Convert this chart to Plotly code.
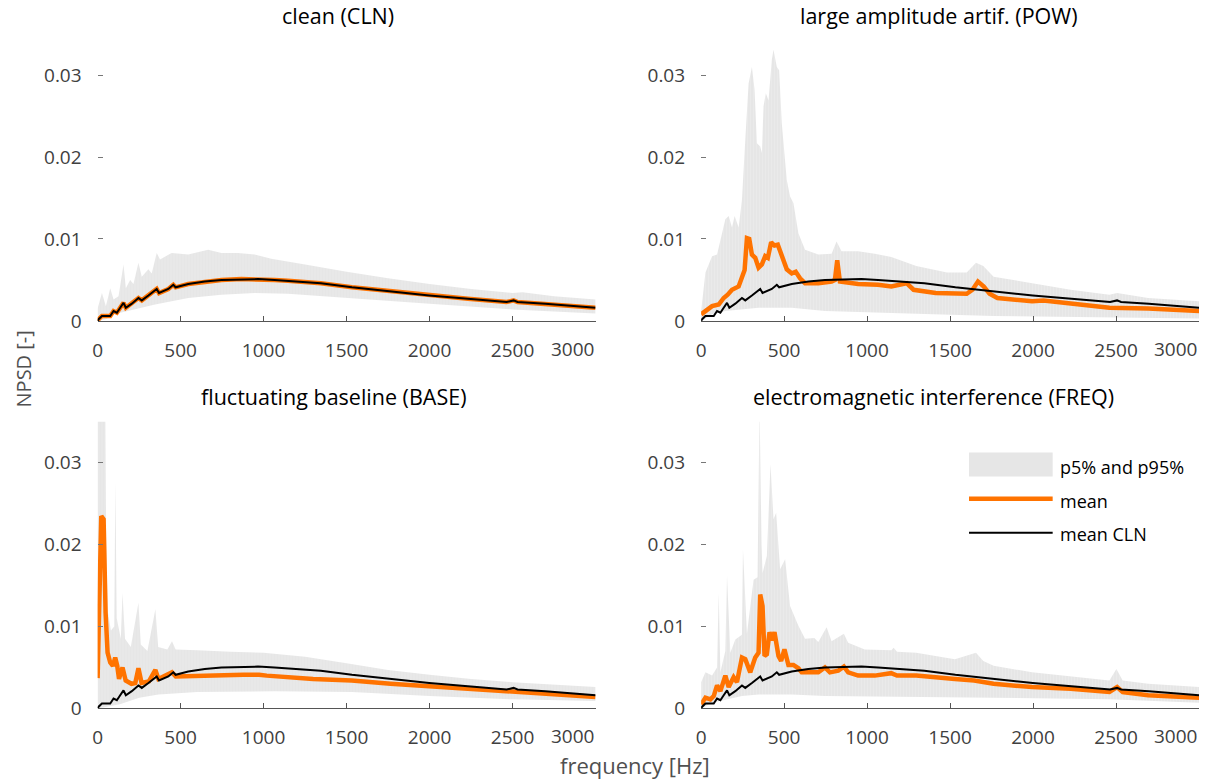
import plotly.graph_objects as go

# ---------------- data ----------------
tick_vals = [0, 500, 1000, 1500, 2000, 2500, 3000]
tick_text = ["0", "500", "1000", "1500", "2000", "2500", ""]
ytick_vals = [0, 0.01, 0.02, 0.03]
ytick_text = ["0", "0.01", "0.02", "0.03"]

panel_titles = ["clean (CLN)", "large amplitude artif. (POW)",
                "fluctuating baseline (BASE)", "electromagnetic interference (FREQ)"]

# mean of clean recordings (black reference curve, also the CLN mean)
cln_mean_f = [0, 6, 26, 76, 96, 116, 136, 156, 170, 206, 246, 266, 306, 356, 370, 426, 456, 470,
              546, 646, 746, 866, 966, 1066, 1146, 1227, 1345, 1532, 1765, 1998, 2231, 2464, 2506,
              2530, 2697, 3000]
cln_mean_v = [0.0, 0.0002, 0.0006, 0.0006, 0.0012, 0.0010, 0.0016, 0.0022, 0.0016, 0.0021, 0.0028,
              0.0025, 0.0031, 0.0039, 0.0034, 0.0039, 0.0044, 0.0041, 0.0045, 0.0048, 0.0050, 0.0051,
              0.0051, 0.0050, 0.0049, 0.0048, 0.0046, 0.0041, 0.0036, 0.0031, 0.0027, 0.0023, 0.0025,
              0.0023, 0.0021, 0.0016]

cln_p95_f = [0, 26, 50, 76, 96, 126, 156, 170, 196, 216, 246, 266, 306, 326, 356, 376, 446, 546,
             666, 746, 846, 946, 1046, 1146, 1250, 1500, 1750, 2000, 2250, 2500, 2560, 2750, 3000]
cln_p95_v = [0.0015, 0.0034, 0.0018, 0.0040, 0.0026, 0.0030, 0.0069, 0.0040, 0.0050, 0.0045, 0.0071,
             0.0054, 0.0063, 0.0058, 0.0083, 0.0075, 0.0083, 0.0081, 0.0087, 0.0083, 0.0083, 0.0081,
             0.0076, 0.0073, 0.0069, 0.0060, 0.0052, 0.0045, 0.0039, 0.0034, 0.0035, 0.0030, 0.0026]
cln_p5_f = [0, 50, 100, 200, 346, 546, 746, 946, 1146, 1400, 1600, 2000, 2500, 3000]
cln_p5_v = [0.0, 0.0002, 0.0008, 0.0013, 0.0020, 0.0028, 0.0032, 0.0034, 0.0033, 0.0030, 0.0027,
            0.0021, 0.0014, 0.0009]

pow_mean_f = [0, 66, 106, 136, 160, 186, 226, 246, 262, 276, 290, 306, 326, 346, 366, 386, 402, 422,
              442, 462, 486, 516, 546, 570, 596, 626, 706, 786, 806, 820, 836, 946, 1066, 1146, 1238,
              1280, 1413, 1530, 1600, 1635, 1668, 1703, 1738, 1785, 1994, 2063, 2226, 2460, 2693, 3000]
pow_mean_v = [0.0008, 0.0018, 0.0020, 0.0028, 0.0032, 0.0038, 0.0042, 0.0055, 0.0062, 0.0101, 0.0100,
              0.0081, 0.0077, 0.0065, 0.0069, 0.0079, 0.0077, 0.0096, 0.0092, 0.0093, 0.0081, 0.0063,
              0.0058, 0.0060, 0.0052, 0.0046, 0.0046, 0.0048, 0.0050, 0.0074, 0.0048, 0.0045, 0.0044,
              0.0042, 0.0046, 0.0038, 0.0034, 0.0034, 0.0033, 0.0038, 0.0048, 0.0042, 0.0033, 0.0028,
              0.0024, 0.0025, 0.0021, 0.0016, 0.0015, 0.0012]
pow_p95_f = [0, 26, 66, 96, 146, 166, 186, 202, 226, 246, 266, 286, 306, 322, 336, 356, 366, 376,
             390, 406, 426, 436, 456, 470, 486, 516, 536, 556, 586, 626, 706, 786, 816, 846, 946,
             1046, 1146, 1296, 1482, 1600, 1656, 1700, 1762, 1994, 2226, 2460, 2506, 2693, 3000]
pow_p95_v = [0.0012, 0.0059, 0.0079, 0.0081, 0.0124, 0.0128, 0.0114, 0.0128, 0.0114, 0.0148, 0.0221,
             0.0290, 0.0310, 0.0282, 0.0217, 0.0213, 0.0205, 0.0262, 0.0278, 0.0269, 0.0319, 0.0331,
             0.0310, 0.0306, 0.0241, 0.0172, 0.0152, 0.0144, 0.0107, 0.0087, 0.0081, 0.0082, 0.0097,
             0.0085, 0.0085, 0.0082, 0.0078, 0.0067, 0.0059, 0.0059, 0.0071, 0.0067, 0.0054, 0.0046,
             0.0038, 0.0032, 0.0034, 0.0028, 0.0024]
pow_p5_f = [0, 66, 146, 346, 546, 746, 946, 1400, 1762, 2300, 3000]
pow_p5_v = [0.0, 0.0008, 0.0012, 0.0016, 0.0016, 0.0012, 0.0011, 0.0008, 0.0006, 0.0005, 0.0003]

base_mean_f = [0, 10, 22, 36, 48, 60, 76, 92, 106, 118, 129, 150, 169, 204, 227, 246, 265, 309, 348,
               366, 448, 471, 600, 740, 879, 973, 1019, 1298, 1531, 1765, 1998, 2231, 2464, 2697, 3000]
base_mean_v = [0.0037, 0.0120, 0.0235, 0.0231, 0.0117, 0.0068, 0.0056, 0.0052, 0.0062, 0.0052,
               0.0036, 0.0050, 0.0034, 0.0030, 0.0031, 0.0049, 0.0031, 0.0033, 0.0047, 0.0036, 0.0044,
               0.0039, 0.0040, 0.0041, 0.0041, 0.0041, 0.0040, 0.0036, 0.0034, 0.0030, 0.0027, 0.0023,
               0.0020, 0.0017, 0.0014]
base_p95_f = [0, 46, 52, 60, 80, 100, 107, 115, 140, 150, 165, 200, 246, 260, 300, 348, 365, 420,
              448, 470, 600, 800, 1000, 1250, 1500, 1750, 2000, 2250, 2500, 2750, 3000]
base_p95_v = [0.037, 0.037, 0.020, 0.012, 0.0095, 0.010, 0.0276, 0.011, 0.0085, 0.0141, 0.0085,
              0.0075, 0.0129, 0.0078, 0.0070, 0.0121, 0.0075, 0.0072, 0.0082, 0.0072, 0.0071, 0.0069,
              0.0068, 0.0063, 0.0055, 0.0047, 0.0041, 0.0036, 0.0032, 0.0029, 0.0026]
base_p5_f = [0, 50, 134, 251, 367, 600, 1066, 1532, 2000, 2500, 3000]
base_p5_v = [0.0, 0.0002, 0.0005, 0.0013, 0.0017, 0.0020, 0.0021, 0.0020, 0.0015, 0.0011, 0.0009]

freq_mean_f = [0, 26, 56, 76, 96, 116, 146, 166, 196, 216, 246, 266, 296, 326, 346, 356, 370, 382,
               396, 412, 426, 442, 466, 482, 502, 526, 556, 586, 606, 666, 706, 746, 776, 826, 860,
               886, 946, 1046, 1145, 1180, 1296, 1529, 1645, 1762, 1994, 2226, 2460, 2506, 2540,
               2693, 3000]
freq_mean_v = [0.0005, 0.0013, 0.0011, 0.0015, 0.0028, 0.0021, 0.0040, 0.0026, 0.0038, 0.0032,
               0.0062, 0.0060, 0.0044, 0.0062, 0.0068, 0.0139, 0.0125, 0.0064, 0.0066, 0.0093, 0.0083,
               0.0093, 0.0064, 0.0058, 0.0072, 0.0053, 0.0053, 0.0049, 0.0044, 0.0044, 0.0044, 0.0050,
               0.0044, 0.0046, 0.0051, 0.0044, 0.0040, 0.0040, 0.0043, 0.0040, 0.0040, 0.0036, 0.0034,
               0.0030, 0.0026, 0.0024, 0.0020, 0.0026, 0.0020, 0.0016, 0.0013]
freq_p95_f = [0, 26, 66, 96, 106, 116, 146, 156, 176, 206, 246, 252, 276, 316, 340, 352, 364, 370,
              396, 418, 436, 452, 476, 506, 536, 586, 626, 682, 706, 756, 786, 860, 886, 986, 1146,
              1160, 1180, 1296, 1529, 1656, 1700, 1762, 1994, 2226, 2460, 2502, 2540, 2693, 3000]
freq_p95_v = [0.0032, 0.0044, 0.0040, 0.0050, 0.0141, 0.0044, 0.0070, 0.0162, 0.0068, 0.0084,
              0.0090, 0.0194, 0.0091, 0.0157, 0.0160, 0.0370, 0.0200, 0.0165, 0.0186, 0.0298, 0.0231,
              0.0239, 0.0170, 0.0182, 0.0125, 0.0101, 0.0085, 0.0086, 0.0081, 0.0099, 0.0082, 0.0091,
              0.0080, 0.0072, 0.0071, 0.0074, 0.0069, 0.0068, 0.0060, 0.0068, 0.0058, 0.0052, 0.0044,
              0.0039, 0.0034, 0.0048, 0.0034, 0.0030, 0.0026]
freq_p5_f = [0, 66, 146, 246, 346, 546, 746, 946, 1762, 2460, 3000]
freq_p5_v = [0.0, 0.0007, 0.0011, 0.0015, 0.0017, 0.0017, 0.0015, 0.0015, 0.0013, 0.0011, 0.0007]

panels = [
    (cln_p95_f, cln_p95_v, cln_p5_f, cln_p5_v, cln_mean_f, cln_mean_v),
    (pow_p95_f, pow_p95_v, pow_p5_f, pow_p5_v, pow_mean_f, pow_mean_v),
    (base_p95_f, base_p95_v, base_p5_f, base_p5_v, base_mean_f, base_mean_v),
    (freq_p95_f, freq_p95_v, freq_p5_f, freq_p5_v, freq_mean_f, freq_mean_v),
]

# ---------------- styling ----------------
W = 1215
H_EFF = 771   # effective drawing height observed in the viewer
FONT = "Open Sans"
BAND = "rgb(231,231,231)"
ORANGE = "#ff7300"
TICKCOL = "#404040"
TICKSIZE = 19

# axes pixel boxes (left, right, top, bottom)
boxes = [(93, 593, 34.3, 321.3), (699, 1199, 34.3, 321.3),
         (93, 593, 422.3, 709.3), (699, 1199, 422.3, 709.3)]
title_pos = [(334, 16), (938, 16), (330, 397), (932, 397)]

def px(x):
    return x / W

def py(y):
    return 1 - y / H_EFF

fig = go.Figure()
layout = dict(autosize=True, margin=dict(l=0, r=0, t=0, b=0),
              plot_bgcolor="white", paper_bgcolor="white", showlegend=False,
              font=dict(family=FONT, color=TICKCOL))
annotations = []

for i, (uf, uv, lf, lv, mf, mv) in enumerate(panels):
    k = "" if i == 0 else str(i + 1)
    xa, ya = "x" + k, "y" + k
    l, r, t, b = boxes[i]
    layout["xaxis" + k] = dict(domain=[px(l), px(r)], anchor=ya, range=[0, 3000],
                               showline=True, linecolor="#555555", linewidth=1,
                               ticks="inside", ticklen=5, tickcolor="#555555",
                               tickvals=tick_vals, ticktext=tick_text,
                               tickfont=dict(size=TICKSIZE, color=TICKCOL, family=FONT),
                               ticklabelstandoff=12,
                               showgrid=False, zeroline=False)
    layout["yaxis" + k] = dict(domain=[py(b), py(t)], anchor=xa, range=[0, 0.035],
                               showline=False, ticks="inside", ticklen=5, tickcolor="#777777",
                               tickvals=ytick_vals, ticktext=ytick_text,
                               tickfont=dict(size=TICKSIZE, color=TICKCOL, family=FONT),
                               ticklabelstandoff=15,
                               showgrid=False, zeroline=False)
    # p5..p95 band (faint vertical striation like the original bar-style band)
    fig.add_trace(go.Scatter(x=list(uf) + list(lf)[::-1], y=list(uv) + list(lv)[::-1],
                             fill="toself", fillcolor=BAND, line=dict(width=0),
                             fillpattern=dict(shape="|", bgcolor="rgb(230,230,230)",
                                              fgcolor="rgb(238,238,238)", size=3, solidity=0.35),
                             mode="lines", hoverinfo="skip", xaxis=xa, yaxis=ya))
    # mean of the class
    fig.add_trace(go.Scatter(x=mf, y=mv, mode="lines", line=dict(color=ORANGE, width=4.5),
                             xaxis=xa, yaxis=ya))
    # mean clean reference
    fig.add_trace(go.Scatter(x=cln_mean_f, y=cln_mean_v, mode="lines",
                             line=dict(color="black", width=2), xaxis=xa, yaxis=ya))
    # last tick label kept inside the axes
    annotations.append(dict(x=3000, y=0, xref=xa, yref=ya, text="3000", showarrow=False,
                            xanchor="right", yanchor="top", yshift=-13,
                            font=dict(size=TICKSIZE, color=TICKCOL, family=FONT)))
    tx, ty = title_pos[i]
    annotations.append(dict(x=px(tx), y=py(ty), xref="paper", yref="paper", text=panel_titles[i],
                            showarrow=False, xanchor="center", yanchor="middle",
                            font=dict(size=21.5, color="black", family=FONT)))

# axis titles
annotations.append(dict(x=px(19), y=py(369), xref="paper", yref="paper", text="NPSD [-]",
                        textangle=-90, showarrow=False, xanchor="center", yanchor="middle",
                        font=dict(size=20, color="#505050", family=FONT)))
annotations.append(dict(x=px(633), y=py(766), xref="paper", yref="paper", text="frequency [Hz]",
                        showarrow=False, xanchor="center", yanchor="middle",
                        font=dict(size=22, color="#505050", family=FONT)))

# legend (drawn in the FREQ panel corner)
shapes = [
    dict(type="rect", xref="paper", yref="paper", x0=px(968), x1=px(1052), y0=py(477), y1=py(453),
         fillcolor="rgb(230,230,230)", line=dict(width=0)),
    dict(type="line", xref="paper", yref="paper", x0=px(968), x1=px(1052), y0=py(499.5), y1=py(499.5),
         line=dict(color=ORANGE, width=4.5)),
    dict(type="line", xref="paper", yref="paper", x0=px(968), x1=px(1052), y0=py(533.5), y1=py(533.5),
         line=dict(color="black", width=2)),
]
for txt, yy in [("p5% and p95%", 468), ("mean", 502), ("mean CLN", 535)]:
    annotations.append(dict(x=px(1057), y=py(yy), xref="paper", yref="paper", text=txt,
                            showarrow=False, xanchor="left", yanchor="middle",
                            font=dict(size=18, color="black", family=FONT)))

layout["annotations"] = annotations
layout["shapes"] = shapes
fig.update_layout(**layout)
fig.write_html("out.html", default_width="100vw", default_height="100vh",
               config={"displayModeBar": False, "responsive": True},
               post_script="document.body.style.margin='0px';"
                           "document.body.style.overflow='hidden';"
                           "Plotly.Plots.resize(document.getElementById('{plot_id}'));")
